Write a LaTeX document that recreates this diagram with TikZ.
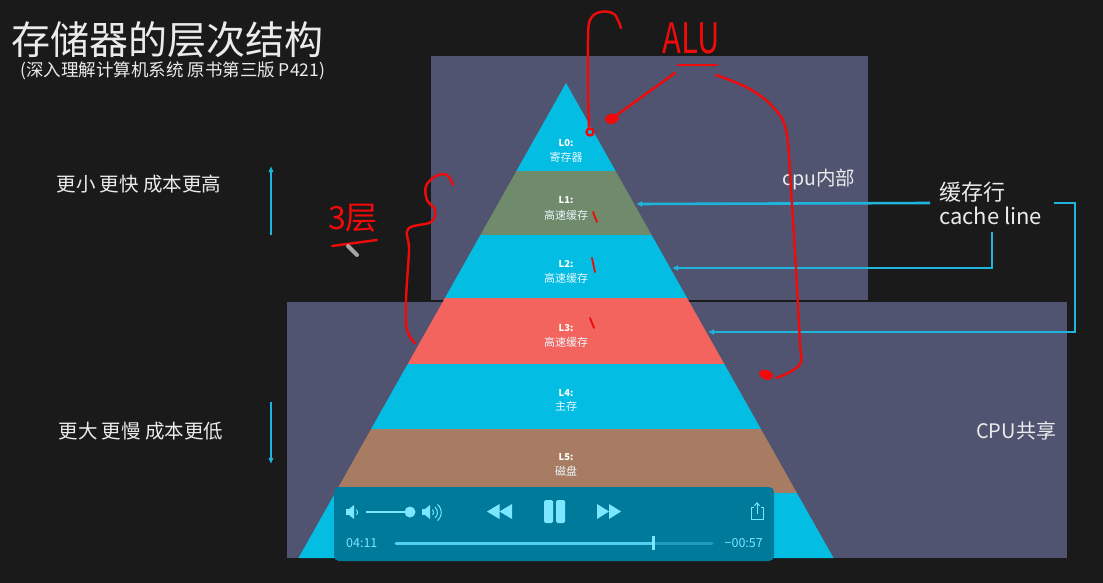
\documentclass[tikz,border=0pt]{standalone}
\usepackage{fontspec}
\setmainfont{Noto Sans CJK SC}
\usepackage{graphicx}
\usetikzlibrary{arrows.meta}
\definecolor{bgc}{HTML}{1A1A1A}
\definecolor{slate}{HTML}{505470}
\definecolor{cyanb}{HTML}{03BDE3}
\definecolor{oliveb}{HTML}{708A6C}
\definecolor{salmonb}{HTML}{F4645F}
\definecolor{brownb}{HTML}{A87C62}
\definecolor{linec}{HTML}{1EB4DC}
\definecolor{player}{HTML}{007A9B}
\definecolor{picon}{HTML}{7BE6FF}
\definecolor{ptrack}{HTML}{1D9CC0}
\definecolor{pfill}{HTML}{4FD0F0}
\definecolor{inkred}{HTML}{F00A0A}
\definecolor{chalk}{HTML}{EBEBEB}
\begin{document}
\begin{tikzpicture}[x=1pt,y=-1pt,
  txt/.style={text=chalk,inner sep=0pt},
  lvl/.style={text=white,inner sep=0pt,font=\fontsize{9.5}{10}\selectfont\bfseries},
  lvn/.style={text=white!92!cyan,inner sep=0pt,font=\fontsize{11}{12}\selectfont},
  cline/.style={draw=linec,line width=2.6pt},
  carrow/.style={cline,-{Latex[length=6pt,width=6pt]}},
  ink/.style={draw=inkred,line width=2.4pt,line cap=round,line join=round},
  picn/.style={fill=picon,draw=none}]
\useasboundingbox (0,0) rectangle (1103,583);
\fill[bgc] (0,0) rectangle (1103,583);
% background panels
\fill[slate] (431,56) rectangle (868,300);
\fill[slate] (287,302) rectangle (1067,558);
% pyramid
\fill[cyanb]   (566,83) -- (615.6,171) -- (516.4,171) -- cycle;
\fill[oliveb]  (516.4,171) -- (615.6,171) -- (651.6,235) -- (480.4,235) -- cycle;
\fill[cyanb]   (480.4,235) -- (651.6,235) -- (687.1,298) -- (444.9,298) -- cycle;
\fill[salmonb] (444.9,298) -- (687.1,298) -- (724.3,364) -- (407.7,364) -- cycle;
\fill[cyanb]   (407.7,364) -- (724.3,364) -- (760.9,429) -- (371.1,429) -- cycle;
\fill[brownb]  (371.1,429) -- (760.9,429) -- (796.9,493) -- (335.1,493) -- cycle;
\fill[cyanb]   (335.1,493) -- (796.9,493) -- (833.5,558) -- (298.5,558) -- cycle;
% pyramid labels
\node[lvl] (l0a) at (566,143) {L0:};
\node[lvn] (l0b) at (566,157) {寄存器};
\node[lvl] (l1a) at (566,200) {L1:};
\node[lvn] (l1b) at (566,215) {高速缓存};
\node[lvl] (l2a) at (566,264) {L2:};
\node[lvn] (l2b) at (566,278) {高速缓存};
\node[lvl] (l3a) at (566,328) {L3:};
\node[lvn] (l3b) at (566,342) {高速缓存};
\node[lvl] (l4a) at (566,393) {L4:};
\node[lvn] (l4b) at (566,406) {主存};
\node[lvl] (l5a) at (566,457) {L5:};
\node[lvn] (l5b) at (566,471) {磁盘};
% titles
\node[txt,anchor=west,font=\fontsize{39}{42}\selectfont] (title) at (11,40) {存储器的层次结构};
\node[txt,anchor=west,font=\fontsize{17.5}{19}\selectfont] (sub) at (20,71) {(深入理解计算机系统 原书第三版 P421)};
% side texts
\node[txt,font=\fontsize{19.5}{21}\selectfont] (fast) at (139,184) {更小 更快 成本更高};
\node[txt,font=\fontsize{19.5}{21}\selectfont] (slow) at (141,431) {更大 更慢 成本更低};
\coordinate (upA) at (271,235); \coordinate (upB) at (271,166);
\coordinate (dnA) at (271,402); \coordinate (dnB) at (271,464);
\draw[cline,line width=2.4pt,-{Latex[length=6pt,width=5.5pt]}] (upA) -- (upB);
\draw[cline,line width=2.4pt,-{Latex[length=6pt,width=5.5pt]}] (dnA) -- (dnB);
\node[txt,anchor=west,font=\fontsize{19.5}{21}\selectfont] (cpuin) at (782,180) {cpu内部};
\node[txt,anchor=west,font=\fontsize{20}{22}\selectfont] (cpush) at (976,431) {CPU共享};
\node[txt,align=left,anchor=west,font=\fontsize{22}{24}\selectfont] (cl) at (939,203) {缓存行\\cache line};
% cache line connectors
\coordinate (t1) at (636,204);
\coordinate (t2) at (672,268);
\coordinate (t3) at (708,332);
\coordinate (s1) at (930,203);
\coordinate (s2) at (992,232);
\coordinate (s3) at (1054,203);
\coordinate (c3) at (1075,332);
\draw[carrow] (s1) -- (t1);
\draw[carrow] (s2) |- (t2);
\draw[carrow] (s3) -| (c3) -- (t3);
% red handwritten annotations
\node[text=inkred,inner sep=0pt,font=\fontsize{42}{42}\selectfont\itshape] (alu) at (691,38) {\scalebox{0.74}[1]{ALU}};
\draw[ink] (678,65) -- (717,65);
\draw[ink] plot[smooth,tension=0.6] coordinates {(589,128) (588,90) (588,40) (590,20) (600,12) (614,14) (621,28)};
\draw[ink] (590,132) circle (3.5);
\draw[ink] (675,73) -- (614,117);
\draw[ink,fill=inkred] (606,119) .. controls (608,113) and (616,114) .. (618,118) .. controls (616,124) and (607,125) .. (606,119) -- cycle;
\draw[ink] plot[smooth,tension=0.6] coordinates {(716,75) (748,88) (772,106) (786,130) (791,190) (796,270) (800,343) (801,362) (790,372) (776,378)};
\draw[ink,fill=inkred] (760,373) .. controls (763,369) and (770,371) .. (772,375) .. controls (771,380) and (764,381) .. (760,373) -- cycle;
\draw[ink] plot[smooth,tension=0.6] coordinates {(453,185) (447,175) (436,176) (426,186) (427,200) (435,210) (431,222) (408,229) (409,250) (406,300) (407,330) (415,343)};
\node[text=inkred,inner sep=0pt,font=\fontsize{32}{32}\selectfont] (three) at (353,218) {3层};
\draw[ink] (332,246) -- (377,240);
\draw[ink,line width=1.8pt] (593,212) -- (597,222);
\draw[ink,line width=1.8pt] (592,258) -- (595,272);
\draw[ink,line width=1.8pt] (590,318) -- (594,328);
\draw[gray!70!white,line width=4pt,line cap=round] (348,246) -- (357,255);
% video player overlay
\fill[player,rounded corners=5pt] (334,487) rectangle (774,561);
\fill[picon] (346,509) rectangle (349,515);
\fill[picon] (349,509) -- (354,505) -- (354,519) -- (349,515) -- cycle;
\draw[picon,line width=1pt] (356.5,509.5) arc[start angle=-50,end angle=50,radius=3.5];
\draw[picon,line width=2.5pt] (366,512) -- (406,512);
\fill[picon] (410,512) circle (5.5);
\fill[picon] (422,509) rectangle (425,515);
\fill[picon] (425,509) -- (430,505) -- (430,519) -- (425,515) -- cycle;
\draw[picon,line width=1pt] (432.5,509.5) arc[start angle=-50,end angle=50,radius=3.5];
\draw[picon,line width=1pt] (435,507) arc[start angle=-50,end angle=50,radius=7];
\draw[picon,line width=1pt] (437.5,504.5) arc[start angle=-50,end angle=50,radius=10.5];
\fill[picon] (487,511.5) -- (499.5,504) -- (499.5,519) -- cycle;
\fill[picon] (499.5,511.5) -- (512,504) -- (512,519) -- cycle;
\fill[picon,rounded corners=1.5pt] (544,500) rectangle (553,523);
\fill[picon,rounded corners=1.5pt] (556,500) rectangle (565,523);
\fill[picon] (621,511.5) -- (609,504) -- (609,519) -- cycle;
\fill[picon] (609,511.5) -- (597,504) -- (597,519) -- cycle;
\draw[picon,line width=1pt] (753.5,507) -- (751,507) -- (751,519) -- (763,519) -- (763,507) -- (760.5,507);
\draw[picon,line width=1pt,-{Straight Barb[length=3pt,width=5pt]}] (757,514) -- (757,502);
\node[text=picon,inner sep=0pt,anchor=west,font=\fontsize{12.5}{13}\selectfont] (tcur) at (346,543) {04:11};
\node[text=picon,inner sep=0pt,anchor=east,font=\fontsize{12.5}{13}\selectfont] (trem) at (763,543) {−00:57};
\draw[ptrack,line width=3pt,line cap=round] (396,543) -- (712,543);
\draw[pfill,line width=3pt,line cap=round] (396,543) -- (653,543);
\fill[picon] (651.5,536) rectangle (654.5,550);
\end{tikzpicture}
\end{document}
